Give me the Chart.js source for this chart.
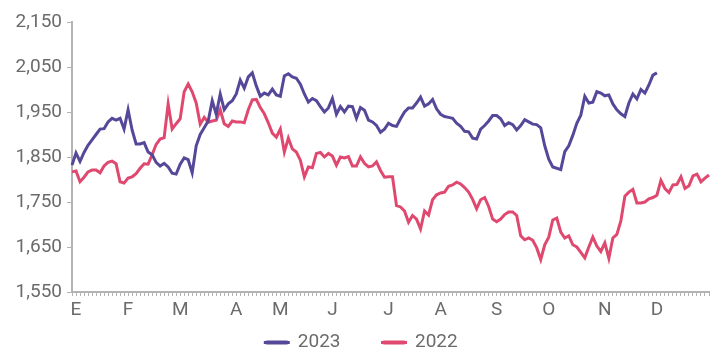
<!DOCTYPE html>
<html>
<head>
<meta charset="utf-8">
<script src="https://cdn.jsdelivr.net/npm/chart.js@4"></script>
<style>
  body { margin: 0; background: #fff; }
  #wrap { width: 712px; height: 358px; }
</style>
</head>
<body>
<div id="wrap"><canvas id="chart" width="712" height="358"></canvas></div>
<script>
// month letters (Spanish) and the point index where each one is shown
const monthLetters = ['E', 'F', 'M', 'A', 'M', 'J', 'J', 'A', 'S', 'O', 'N', 'D'];
const monthStarts = [1, 14, 27, 41, 52, 65, 79, 92, 106, 119, 133, 146];

const yTicks = [1550, 1650, 1750, 1850, 1950, 2050, 2150];

// 2023, ends at the start of December
const values2023 = [
  1832, 1859, 1840, 1860, 1876, 1888, 1900, 1912, 1913, 1928,
  1936, 1932, 1936, 1912, 1955, 1910, 1879, 1879, 1882, 1861,
  1855, 1838, 1830, 1836, 1828, 1814, 1812, 1834, 1848, 1844,
  1815, 1875, 1900, 1915, 1930, 1975, 1945, 1990, 1955, 1968,
  1975, 1990, 2021, 2003, 2028, 2037, 2008, 1985, 1992, 1988,
  2001, 1988, 1985, 2030, 2035, 2028, 2025, 2012, 1990, 1972,
  1980, 1975, 1962, 1950, 1959, 1980, 1945, 1962, 1950, 1963,
  1962, 1936, 1960, 1954, 1932, 1928, 1920, 1905, 1912, 1925,
  1920, 1918, 1935, 1950, 1959, 1959, 1970, 1983, 1963, 1968,
  1978, 1957, 1945, 1940, 1938, 1936, 1925, 1918, 1907, 1906,
  1892, 1890, 1912, 1920, 1930, 1942, 1942, 1935, 1920, 1926,
  1922, 1910, 1920, 1933, 1928, 1923, 1922, 1915, 1875, 1845,
  1828, 1825, 1822, 1862, 1875, 1898, 1925, 1943, 1985, 1970,
  1972, 1995, 1992, 1986, 1988, 1968, 1955, 1946, 1940, 1970,
  1990, 1979, 2000, 1992, 2010, 2032, 2037
];

// 2022 - full year
const values2022 = [
  1817, 1819, 1795, 1805, 1817, 1821, 1821, 1815, 1830, 1838,
  1841, 1835, 1795, 1792, 1803, 1806, 1813, 1825, 1835, 1834,
  1855, 1878, 1890, 1893, 1968, 1912, 1924, 1935, 1995, 2012,
  1995, 1970, 1923, 1938, 1927, 1930, 1932, 1955, 1924, 1918,
  1930, 1928, 1928, 1926, 1955, 1977, 1978, 1960, 1946, 1926,
  1903, 1894, 1912, 1861, 1892, 1868, 1861, 1843, 1806, 1828,
  1826, 1858, 1860, 1850, 1858, 1852, 1832, 1850, 1848, 1851,
  1830, 1830, 1850, 1836, 1828, 1830, 1839, 1820, 1805, 1806,
  1806, 1742, 1739, 1730, 1705, 1720, 1712, 1690, 1730, 1721,
  1755, 1766, 1770, 1772, 1785, 1788, 1794, 1790, 1782, 1772,
  1756, 1735, 1755, 1760, 1740, 1712, 1706, 1712, 1722, 1728,
  1728, 1720, 1675, 1666, 1670, 1665, 1648, 1622, 1655, 1672,
  1710, 1714, 1683, 1670, 1675, 1655, 1650, 1638, 1626, 1650,
  1672, 1652, 1640, 1659, 1625, 1670, 1678, 1708, 1763, 1772,
  1778, 1748, 1748, 1750, 1757, 1760, 1765, 1798, 1780, 1771,
  1788, 1789, 1806, 1780, 1786, 1808, 1812, 1795, 1803, 1810
];

const labels = values2022.map((v, i) => {
  const m = monthStarts.indexOf(i);
  return m >= 0 ? monthLetters[m] : '';
});

const axisGray = '#b3b3b3';
const textGray = '#6b6b6b';
const fontSize = 19;
const legendGap = 42;

// wide gap between legend items without the tall legend box it normally brings
const legendSpacing = {
  id: 'legendSpacing',
  beforeInit(chart) {
    const legend = chart.legend;
    const fit = legend.fit;
    const draw = legend.draw;
    legend.fit = function () {
      fit.call(this);
      this.height = 39;
    };
    legend.draw = function () {
      const top = this.top;
      this.top = top - (legendGap - 14);
      draw.call(this);
      this.top = top;
    };
  }
};

const ctx = document.getElementById('chart').getContext('2d');
new Chart(ctx, {
  type: 'line',
  data: {
    labels: labels,
    datasets: [
      {
        label: '2023',
        data: values2023,
        borderColor: '#564899',
        backgroundColor: '#564899',
        borderWidth: 3,
        pointRadius: 0,
        tension: 0
      },
      {
        label: '2022',
        data: values2022,
        borderColor: '#e0496f',
        backgroundColor: '#e0496f',
        borderWidth: 3,
        pointRadius: 0,
        tension: 0
      }
    ]
  },
  plugins: [legendSpacing],
  options: {
    responsive: false,
    animation: false,
    layout: { padding: { top: 22, right: 1, left: 12, bottom: 0 } },
    plugins: {
      tooltip: { enabled: false },
      legend: {
        position: 'bottom',
        labels: {
          color: textGray,
          font: { family: 'Roboto', size: fontSize },
          boxWidth: 23,
          boxHeight: 1,
          padding: legendGap,
          useBorderRadius: true,
          borderRadius: 2
        }
      }
    },
    scales: {
      x: {
        afterFit: (scale) => { scale.height = 27; },
        grid: { drawOnChartArea: false, drawTicks: true, tickLength: 4, color: axisGray, lineWidth: 1 },
        border: { display: true, color: axisGray, width: 2 },
        ticks: {
          autoSkip: false,
          maxRotation: 0,
          minRotation: 0,
          padding: 3,
          color: textGray,
          font: { family: 'Roboto', size: fontSize }
        }
      },
      y: {
        min: 1550,
        max: 2150,
        afterBuildTicks: (scale) => { scale.ticks = yTicks.map(v => ({ value: v })); },
        afterFit: (scale) => { scale.width = 60; },
        grid: { drawOnChartArea: false, drawTicks: true, tickLength: 5, color: axisGray },
        border: { display: true, color: axisGray, width: 2 },
        ticks: {
          padding: 5,
          color: textGray,
          font: { family: 'Roboto', size: fontSize },
          callback: (v) => v.toLocaleString('en-US')
        }
      }
    }
  }
});
</script>
</body>
</html>
